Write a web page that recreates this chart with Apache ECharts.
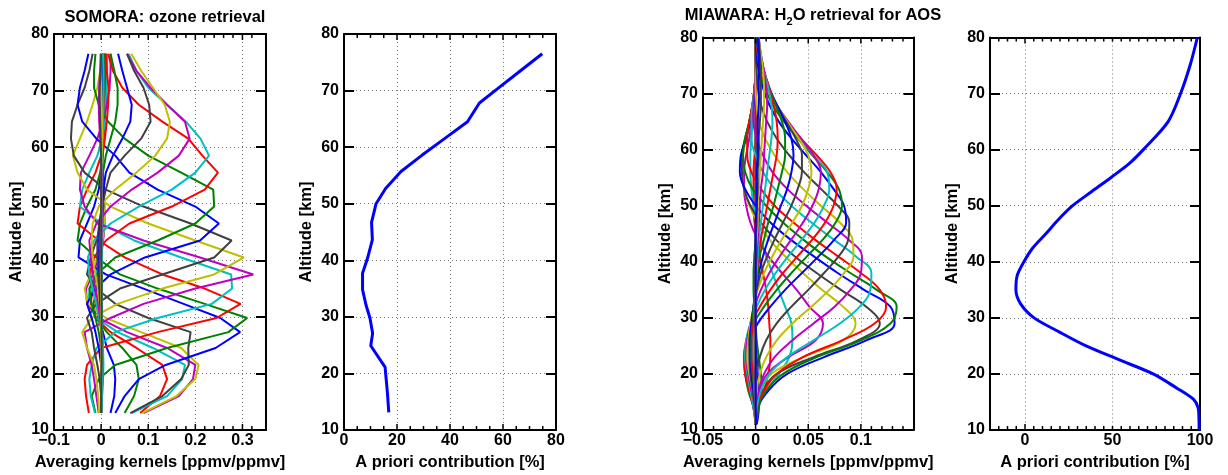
<!DOCTYPE html>
<html>
<head>
<meta charset="utf-8">
<title>Averaging kernels</title>
<script src="https://cdn.jsdelivr.net/npm/echarts@6/dist/echarts.min.js"></script>
<style>
  html, body {margin: 0; padding: 0; background: #fff;}
  #main {width: 1228px; height: 475px;}
</style>
</head>
<body>
<div id="main"></div>
<script>
// ---------- SOMORA ozone ----------
var altO3 = [13, 16, 19, 21.5, 24.5, 27.3, 29.8, 32.3, 35, 37.5, 40.5, 43.5, 46.5, 49.5, 52.5, 55.5, 58.5, 61.5, 64.5, 67.5, 70.5, 73.5, 76.5];

// one row per kernel, values at altO3
var kernelsO3 = [
  [0.02, 0.028, 0.03, 0.027, 0.012, 0.004, -0.006, -0.008, -0.004, 0, 0.002, 0.002, 0.001, 0, 0, 0, 0, 0, 0.001, 0.001, 0.002, 0.002, 0.002],
  [0.05, 0.07, 0.08, 0.075, 0.045, 0.012, -0.01, -0.016, -0.01, -0.004, 0, 0.003, 0.004, 0.003, 0.001, 0, 0, 0, 0.001, 0.002, 0.004, 0.004, 0.004],
  [0.083, 0.125, 0.14, 0.13, 0.075, 0.02, -0.012, -0.022, -0.018, -0.008, 0, 0.004, 0.006, 0.004, 0.002, 0, 0, 0.002, 0.005, 0.008, 0.01, 0.01, 0.01],
  [0.065, 0.14, 0.172, 0.178, 0.11, 0.035, -0.01, -0.028, -0.024, -0.012, -0.002, 0.004, 0.007, 0.006, 0.003, 0.001, 0.002, 0.004, 0.006, 0.008, 0.01, 0.01, 0.01],
  [0.09, 0.165, 0.195, 0.2, 0.14, 0.055, -0.005, -0.03, -0.032, -0.018, -0.005, 0.004, 0.008, 0.007, 0.004, 0.001, 0, 0.002, 0.005, 0.007, 0.008, 0.008, 0.008],
  [0.087, 0.16, 0.2, 0.207, 0.17, 0.085, 0.01, -0.028, -0.035, -0.022, -0.008, 0.003, 0.008, 0.008, 0.005, 0.002, 0, 0.001, 0.004, 0.006, 0.007, 0.007, 0.007],
  [0.062, 0.13, 0.17, 0.186, 0.185, 0.19, 0.1, 0.03, -0.01, -0.03, -0.022, -0.01, 0, 0.005, 0.006, 0.004, 0.002, 0.002, 0.004, 0.006, 0.007, 0.007, 0.007],
  [0.03, 0.05, 0.08, 0.137, 0.243, 0.295, 0.253, 0.175, 0.09, 0.01, -0.048, -0.045, -0.03, -0.015, -0.005, 0, 0.003, 0.004, 0.004, 0.004, 0.004, 0.004, 0.004],
  [-0.012, -0.02, -0.005, 0.03, 0.14, 0.27, 0.31, 0.22, 0.12, 0.04, -0.01, -0.05, -0.045, -0.03, -0.012, -0.002, 0.003, 0.005, 0.005, 0.005, 0.006, 0.006, 0.006],
  [-0.026, -0.032, -0.035, -0.03, 0, 0.12, 0.245, 0.296, 0.22, 0.13, 0.05, -0.005, -0.05, -0.045, -0.03, -0.012, 0, 0.006, 0.008, 0.008, 0.01, 0.01, 0.01],
  [-0.013, -0.022, -0.025, -0.02, -0.01, 0.03, 0.12, 0.235, 0.278, 0.276, 0.17, 0.07, 0, -0.045, -0.04, -0.025, -0.008, 0.003, 0.008, 0.01, 0.012, 0.013, 0.013],
  [-0.005, -0.01, -0.015, -0.02, -0.03, -0.035, 0.02, 0.09, 0.2, 0.323, 0.21, 0.09, -0.008, -0.035, -0.045, -0.043, -0.025, -0.008, 0.004, 0.012, 0.018, 0.02, 0.02],
  [-0.004, -0.006, -0.01, -0.015, -0.03, -0.04, -0.02, 0.035, 0.13, 0.24, 0.303, 0.2, 0.1, 0.02, -0.03, -0.05, -0.06, -0.045, -0.03, -0.018, -0.008, -0.002, 0],
  [0, 0, -0.003, -0.008, -0.015, -0.02, -0.03, -0.01, 0.04, 0.13, 0.24, 0.277, 0.19, 0.09, 0.01, -0.035, -0.058, -0.064, -0.062, -0.05, -0.035, -0.025, -0.018],
  [0, 0, 0.002, 0, -0.005, -0.012, -0.02, -0.03, -0.012, 0.02, 0.093, 0.21, 0.25, 0.2, 0.12, 0.06, 0.03, -0.01, -0.04, -0.05, -0.045, -0.035, -0.027],
  [0, 0.002, 0.003, 0.002, 0, -0.005, -0.012, -0.02, -0.025, -0.01, 0.03, 0.12, 0.2, 0.24, 0.238, 0.17, 0.1, 0.05, 0.015, -0.005, -0.015, -0.015, -0.012],
  [0, 0, 0.002, 0.004, 0.004, 0.002, -0.003, -0.01, -0.018, -0.025, -0.015, 0.01, 0.06, 0.15, 0.22, 0.248, 0.215, 0.185, 0.13, 0.08, 0.045, 0.025, 0.015],
  [0, 0.002, 0.004, 0.005, 0.004, 0, -0.004, -0.01, -0.018, -0.025, -0.028, -0.015, 0.02, 0.08, 0.15, 0.2, 0.229, 0.211, 0.18, 0.14, 0.1, 0.075, 0.058],
  [0, 0.001, 0.003, 0.004, 0.003, 0.001, -0.002, -0.006, -0.012, -0.018, -0.022, -0.025, -0.01, 0.02, 0.065, 0.12, 0.165, 0.188, 0.178, 0.14, 0.105, 0.075, 0.055],
  [0, 0, 0.002, 0.003, 0.003, 0.002, 0, -0.003, -0.007, -0.012, -0.018, -0.02, -0.018, -0.005, 0.03, 0.075, 0.115, 0.14, 0.146, 0.135, 0.11, 0.085, 0.064],
  [0, 0, 0.001, 0.002, 0.002, 0.001, 0, -0.002, -0.004, -0.006, -0.008, -0.008, -0.004, 0.002, 0.01, 0.02, 0.05, 0.085, 0.105, 0.102, 0.09, 0.07, 0.055],
  [0, 0, 0, 0.001, 0.001, 0, 0, -0.001, -0.002, -0.003, -0.004, -0.004, -0.002, 0.001, 0.005, 0.01, 0.025, 0.045, 0.062, 0.065, 0.055, 0.045, 0.036],
  [0, 0, 0, 0, 0, 0, 0, 0, -0.001, -0.002, -0.002, -0.002, -0.001, 0, 0.002, 0.004, 0.01, 0.02, 0.03, 0.035, 0.035, 0.028, 0.02],
  [0, 0, 0, 0, 0, 0, 0, 0, 0, -0.001, -0.001, -0.001, 0, 0, 0.001, 0.002, 0.003, 0.008, 0.012, 0.015, 0.016, 0.012, 0.01],
  [0.001, 0.002, 0.002, 0.002, 0.002, 0.002, 0.002, 0.002, 0.002, 0.002, 0.002, 0.002, 0.002, 0.002, 0.002, 0.002, 0.002, 0.003, 0.004, 0.005, 0.005, 0.005, 0.004],
  [0, 0, 0, 0, 0, 0, 0, 0, 0, 0, 0, 0.001, 0.001, 0.001, 0.001, 0.001, 0, -0.002, -0.004, -0.005, -0.004, -0.002, 0],
  [0, 0, 0, 0, 0, 0, 0, 0, 0, 0, 0, 0, 0, 0, 0, 0, 0.001, 0.002, 0.002, 0.001, 0, -0.001, -0.002],
  [0, 0, 0, 0.001, 0.001, 0.001, 0.001, 0.001, 0.001, 0.001, 0, 0, 0, 0, 0, 0, 0, -0.001, -0.002, -0.003, -0.003, -0.001, 0]
];

var altAprioriO3 = [13.1, 16.5, 21.1, 24.9, 27.1, 29.8, 32.1, 34.8, 37.7, 40.4, 43.6, 46.7, 50.0, 52.7, 55.7, 58.6, 61.6, 64.5, 67.8, 70.6, 73.5, 76.5];
var aprioriO3 = [16.9, 16.4, 15.5, 10.1, 10.8, 9.8, 8.3, 7.0, 7.0, 8.9, 10.7, 10.4, 12.1, 15.7, 21.5, 29.5, 38.2, 46.6, 51.1, 58.7, 66.6, 74.8];

// ---------- MIAWARA water vapour ----------
var altH2O = [11, 14, 17, 20, 23, 26, 29, 32, 35, 38, 41, 44, 47, 50, 53, 56, 59, 62, 65, 68, 71, 74, 77, 80];

var kernelsH2O = [
  [0.001, 0.003, 0.003, 0.002, 0.001, 0, 0, -0.001, -0.001, -0.001, -0.001, 0, 0, 0, 0, 0, 0, 0, 0, 0, 0, 0, 0, 0],
  [0, 0.003, 0.006, 0.005, 0.003, 0.001, 0, -0.001, -0.002, -0.002, -0.001, 0, 0, 0, 0, 0, 0, 0, 0, 0, 0, 0, 0, 0],
  [0, 0.002, 0.008, 0.012, 0.014, 0.014, 0.013, 0.012, 0.01, 0.007, 0.004, 0.001, -0.001, -0.002, -0.002, -0.002, -0.001, 0, 0, 0, 0, 0, 0, 0],
  [0, 0.002, 0.01, 0.022, 0.032, 0.035, 0.034, 0.028, 0.022, 0.016, 0.01, 0.005, 0.001, -0.002, -0.004, -0.005, -0.005, -0.004, -0.003, -0.002, -0.001, 0, 0, 0],
  [0, 0.001, 0.004, 0.011, 0.031, 0.057, 0.064, 0.051, 0.039, 0.025, 0.012, 0.002, -0.005, -0.009, -0.011, -0.011, -0.009, -0.006, -0.004, -0.002, -0.001, 0, 0, 0],
  [0, 0.001, 0.005, 0.015, 0.045, 0.083, 0.095, 0.083, 0.063, 0.045, 0.028, 0.013, 0.002, -0.006, -0.011, -0.013, -0.012, -0.009, -0.006, -0.003, -0.001, 0, 0, 0],
  [0, 0.001, 0.007, 0.02, 0.055, 0.097, 0.118, 0.105, 0.081, 0.058, 0.037, 0.019, 0.005, -0.005, -0.011, -0.013, -0.013, -0.01, -0.006, -0.003, -0.001, 0, 0, 0],
  [0, 0.002, 0.012, 0.03, 0.065, 0.105, 0.132, 0.128, 0.103, 0.078, 0.055, 0.033, 0.014, 0, -0.01, -0.015, -0.014, -0.009, -0.005, -0.002, -0.001, 0, 0, 0],
  [0, 0.002, 0.01, 0.026, 0.058, 0.1, 0.128, 0.134, 0.115, 0.09, 0.066, 0.045, 0.026, 0.01, -0.003, -0.01, -0.012, -0.01, -0.006, -0.003, -0.001, 0, 0, 0],
  [0, 0.001, 0.008, 0.02, 0.045, 0.082, 0.113, 0.124, 0.118, 0.1, 0.078, 0.056, 0.036, 0.018, 0.005, -0.004, -0.008, -0.008, -0.006, -0.003, -0.001, 0, 0, 0],
  [0, 0.001, 0.005, 0.013, 0.03, 0.055, 0.08, 0.099, 0.109, 0.11, 0.095, 0.074, 0.053, 0.034, 0.018, 0.007, 0, -0.004, -0.004, -0.003, -0.001, 0, 0, 0],
  [0, 0, 0.003, 0.008, 0.018, 0.035, 0.055, 0.075, 0.09, 0.1, 0.101, 0.088, 0.068, 0.048, 0.03, 0.016, 0.007, 0.001, -0.002, -0.002, -0.001, 0, 0, 0],
  [0, 0, 0.001, 0.004, 0.01, 0.02, 0.035, 0.053, 0.07, 0.084, 0.093, 0.092, 0.08, 0.062, 0.045, 0.03, 0.018, 0.009, 0.003, 0.001, 0, 0, 0, 0],
  [0, 0, 0, 0.001, 0.004, 0.01, 0.02, 0.034, 0.05, 0.065, 0.079, 0.088, 0.089, 0.078, 0.062, 0.046, 0.032, 0.02, 0.011, 0.005, 0.002, 0.001, 0, 0],
  [0, -0.002, -0.006, -0.009, -0.01, -0.006, 0.002, 0.014, 0.028, 0.044, 0.06, 0.075, 0.086, 0.084, 0.074, 0.062, 0.048, 0.034, 0.022, 0.013, 0.007, 0.003, 0.001, 0],
  [0, -0.002, -0.007, -0.01, -0.011, -0.008, -0.002, 0.008, 0.02, 0.034, 0.049, 0.064, 0.076, 0.082, 0.079, 0.068, 0.054, 0.04, 0.027, 0.016, 0.009, 0.004, 0.002, 0],
  [0, -0.002, -0.006, -0.01, -0.011, -0.009, -0.004, 0.004, 0.014, 0.026, 0.04, 0.054, 0.066, 0.074, 0.077, 0.071, 0.058, 0.043, 0.03, 0.019, 0.011, 0.005, 0.002, 0.001],
  [0, -0.002, -0.005, -0.008, -0.01, -0.009, -0.005, 0.001, 0.009, 0.019, 0.031, 0.044, 0.056, 0.065, 0.07, 0.068, 0.055, 0.042, 0.03, 0.02, 0.012, 0.006, 0.003, 0.001],
  [0, -0.001, -0.004, -0.007, -0.009, -0.008, -0.005, -0.001, 0.005, 0.013, 0.023, 0.034, 0.045, 0.054, 0.06, 0.062, 0.055, 0.043, 0.031, 0.02, 0.012, 0.006, 0.003, 0.001],
  [0, -0.001, -0.003, -0.006, -0.008, -0.007, -0.005, -0.002, 0.002, 0.008, 0.016, 0.025, 0.035, 0.044, 0.05, 0.053, 0.05, 0.041, 0.03, 0.02, 0.012, 0.006, 0.003, 0.001],
  [0, -0.001, -0.003, -0.005, -0.006, -0.006, -0.004, -0.002, 0.001, 0.005, 0.011, 0.018, 0.026, 0.034, 0.04, 0.044, 0.044, 0.038, 0.029, 0.02, 0.012, 0.007, 0.003, 0.001],
  [0, 0, -0.002, -0.004, -0.005, -0.005, -0.004, -0.002, 0, 0.003, 0.007, 0.012, 0.018, 0.024, 0.03, 0.034, 0.036, 0.034, 0.028, 0.02, 0.013, 0.007, 0.003, 0.001],
  [0, 0, -0.001, -0.003, -0.004, -0.004, -0.003, -0.002, 0, 0.002, 0.004, 0.008, 0.012, 0.017, 0.021, 0.025, 0.028, 0.028, 0.025, 0.019, 0.013, 0.008, 0.004, 0.001],
  [0, 0, -0.001, -0.002, -0.003, -0.003, -0.002, -0.001, 0, 0.001, 0.003, 0.005, 0.008, 0.011, 0.014, 0.017, 0.02, 0.021, 0.02, 0.017, 0.013, 0.008, 0.004, 0.002],
  [0, 0, -0.001, -0.001, -0.002, -0.002, -0.001, -0.001, 0, 0.001, 0.002, 0.003, 0.005, 0.007, 0.009, 0.011, 0.013, 0.015, 0.016, 0.015, 0.012, 0.008, 0.005, 0.002],
  [0, 0, 0, -0.001, -0.001, -0.001, -0.001, 0, 0, 0, 0.001, 0.002, 0.003, 0.004, 0.005, 0.007, 0.008, 0.009, 0.01, 0.011, 0.01, 0.008, 0.005, 0.003],
  [0, 0, 0, 0, -0.001, -0.001, 0, 0, 0, 0, 0, 0.001, 0.002, 0.002, 0.003, 0.004, 0.005, 0.006, 0.007, 0.008, 0.008, 0.007, 0.005, 0.003],
  [0, 0, 0, 0, 0, 0, 0, 0, 0, 0, 0, 0, 0.001, 0.001, 0.002, 0.002, 0.003, 0.003, 0.004, 0.005, 0.005, 0.005, 0.004, 0.003],
  [0.001, 0, 0, 0, 0, 0, 0, 0, 0, 0, 0, 0, 0, 0.001, 0.001, 0.001, 0.002, 0.002, 0.002, 0.003, 0.003, 0.003, 0.003, 0.002]
];

var altAprioriH2O = [10, 12, 14, 15.5, 17.5, 20, 22.5, 25, 27.5, 30, 32.5, 35, 37.5, 40, 42.5, 45, 47.5, 50, 52.5, 55, 57.5, 60, 65, 70, 75, 80];
var aprioriH2O = [99.5, 99.4, 98.9, 96.2, 86.6, 73.2, 54, 34.9, 19.5, 5.2, -2.5, -5.2, -4.5, -0.6, 4.5, 11.9, 19, 27.2, 38, 49, 59.5, 67.6, 81.8, 88.9, 94.3, 98.5];

var altTicks = [10, 20, 30, 40, 50, 60, 70, 80];

// matlab default line colours
var colors = ['#0000ff', '#008000', '#ff0000', '#00bfbf', '#bf00bf', '#bfbf00', '#404040'];

var FONT = '"Liberation Sans", Arial, Helvetica, sans-serif';

var panels = [
  {left: 54, top: 34, width: 212, height: 396},
  {left: 344, top: 34, width: 212, height: 396},
  {left: 703, top: 37.5, width: 210.5, height: 392.5},
  {left: 990, top: 37.5, width: 210, height: 392.5}
];
// x scales: min, max, interval, minor step, long-tick step
var xScales = [
  [-0.1, 0.35, 0.1, 0.02, 0.1],
  [0, 80, 20, 5, 20],
  [-0.05, 0.15, 0.05, 0.01, 0.05],
  [-20, 100, 10, 5, 1000]
];
var xNames = ['Averaging kernels [ppmv/ppmv]', 'A priori contribution [%]', 'Averaging kernels [ppmv/ppmv]', 'A priori contribution [%]'];

function fmt(v) {
  var s = String(+(+v).toFixed(3));
  return s.replace('-', '\u2212');
}
function boxLine() {
  return {show: true, onZero: false, lineStyle: {color: '#000', width: 2}};
}
function labelStyle(margin) {
  return {show: true, margin: margin, fontFamily: FONT, fontWeight: 'bold', fontSize: 16, color: '#000',
          formatter: function (v) { return fmt(v); }};
}
function nameStyle() {
  return {fontFamily: FONT, fontWeight: 'bold', fontSize: 16.5, color: '#000'};
}
function dotted() {
  return {show: true, lineStyle: {type: [1, 3], color: '#777', width: 1}};
}

var grid = [];
var xAxis = [];
var yAxis = [];

panels.forEach(function (p, i) {
  grid.push(Object.assign({outerBoundsMode: 'none'}, p));
  var s = xScales[i];
  var bottom = {
    gridIndex: i, type: 'value', position: 'bottom', min: s[0], max: s[1], interval: s[2],
    axisLine: boxLine(), axisTick: {show: false},
    name: xNames[i], nameLocation: 'middle', nameGap: 24, nameTextStyle: nameStyle(),
    axisLabel: labelStyle(3), splitLine: dotted()
  };
  if (i === 0 || i === 2) bottom.axisLabel.showMaxLabel = false;
  if (i === 3) { bottom.axisLabel = {show: false}; bottom.splitLine = {show: false}; }
  xAxis.push(bottom);
  xAxis.push({gridIndex: i, type: 'value', position: 'top', min: s[0], max: s[1], interval: s[2],
              axisLine: boxLine(), axisTick: {show: false}, axisLabel: {show: false}, splitLine: {show: false}});
  yAxis.push({
    gridIndex: i, type: 'value', position: 'left', min: altTicks[0], max: altTicks[altTicks.length - 1], interval: 10,
    axisLine: boxLine(), axisTick: {show: true, inside: true, length: 10, lineStyle: {color: '#000', width: 2}},
    name: 'Altitude [km]', nameLocation: 'middle', nameGap: 29, nameTextStyle: nameStyle(),
    axisLabel: labelStyle(5), splitLine: dotted()
  });
  yAxis.push({
    gridIndex: i, type: 'value', position: 'right', min: altTicks[0], max: altTicks[altTicks.length - 1], interval: 10,
    axisLine: boxLine(), axisTick: {show: true, inside: true, length: 10, lineStyle: {color: '#000', width: 2}},
    axisLabel: {show: false}, splitLine: {show: false}
  });
});

// grid 4: helper for panel 4, covering 0..100 only (labels 0/50/100 + dotted lines)
grid.push({left: 1025, top: 37.5, width: 175, height: 392.5, outerBoundsMode: 'none'});
xAxis.push({gridIndex: 4, type: 'value', position: 'bottom', min: 0, max: 100, interval: 50,
            axisLine: {show: false}, axisTick: {show: false}, axisLabel: labelStyle(3), splitLine: dotted()});
yAxis.push({gridIndex: 4, type: 'value', min: 10, max: 80, show: false});

function kernelSeries(rows, alts, axis, smooth) {
  return rows.map(function (row, i) {
    return {
      type: 'line', xAxisIndex: axis, yAxisIndex: axis,
      data: alts.map(function (a, j) { return [row[j], a]; }),
      symbol: 'none', smooth: smooth, silent: true,
      lineStyle: {width: 2, color: colors[i % colors.length]}
    };
  });
}

function aprioriSeries(vals, alts, axis, smooth) {
  return {
    type: 'line', xAxisIndex: axis, yAxisIndex: axis,
    data: alts.map(function (a, j) { return [vals[j], a]; }),
    symbol: 'none', smooth: smooth, silent: true,
    lineStyle: {width: 3, color: '#0000ff'}
  };
}

// x tick combs along top and bottom edges, placed through the panel's own axes
function tickSeries(i) {
  var s = xScales[i];
  var vals = [];
  var n = Math.round((s[1] - s[0]) / s[3]);
  for (var k = 1; k < n; k++) vals.push([+(s[0] + k * s[3]).toFixed(4)]);
  var yLo = altTicks[0], yHi = altTicks[altTicks.length - 1];
  return {
    type: 'custom', xAxisIndex: 2 * i, yAxisIndex: 2 * i, silent: true, clip: false, z: 5,
    encode: {x: 0},
    data: vals,
    renderItem: function (params, api) {
      var v = api.value(0);
      var r = v / s[4];
      var len = Math.abs(r - Math.round(r)) < 1e-6 ? 6 : 4;
      var lo = api.coord([v, yLo]);
      var hi = api.coord([v, yHi]);
      var st = {stroke: '#000', lineWidth: 1.5};
      return {type: 'group', children: [
        {type: 'line', shape: {x1: lo[0], y1: lo[1], x2: lo[0], y2: lo[1] - len}, style: st},
        {type: 'line', shape: {x1: hi[0], y1: hi[1], x2: hi[0], y2: hi[1] + len}, style: st}
      ]};
    }
  };
}

var series = []
  .concat(kernelSeries(kernelsO3, altO3, 0, false))
  .concat([aprioriSeries(aprioriO3, altAprioriO3, 2, false)])
  .concat(kernelSeries(kernelsH2O, altH2O, 4, 0.4))
  .concat([aprioriSeries(aprioriH2O, altAprioriH2O, 6, 0.3)])
  .concat([0, 1, 2, 3].map(tickSeries));

// subscript: padding on top pushes the small "2" down inside its box
var titleRich = {
  a: {fontFamily: FONT, fontWeight: 'bold', fontSize: 16.5, color: '#000'},
  b: {fontFamily: FONT, fontWeight: 'bold', fontSize: 11, color: '#000', padding: [12, 0, 0, 0]}
};

var chart = echarts.init(document.getElementById('main'));
chart.setOption({
  animation: false,
  title: [
    {text: '{a|SOMORA: ozone retrieval}', left: 160, top: 4, textAlign: 'center',
     textStyle: {rich: titleRich}},
    {text: '{a|MIAWARA: H}{b|2}{a|O retrieval for AOS}', left: 808, top: -1, textAlign: 'center',
     textStyle: {rich: titleRich}}
  ],
  grid: grid,
  xAxis: xAxis,
  yAxis: yAxis,
  series: series
});
</script>
</body>
</html>
